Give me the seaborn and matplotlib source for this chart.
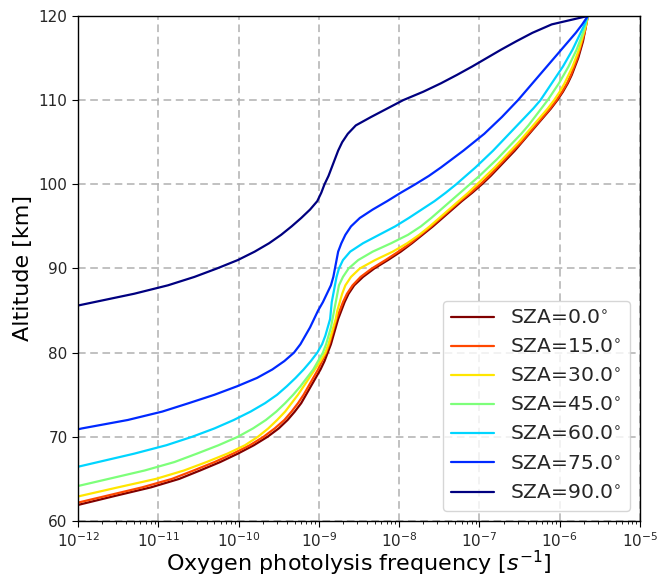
import numpy as np
import pandas as pd
import matplotlib
matplotlib.use("Agg")
import matplotlib.pyplot as plt
import seaborn as sns

nan = np.nan
altitude = list(range(60, 121))  # km, 1 km steps

sza_labels = ["SZA=0.0$^{\\circ}$", "SZA=15.0$^{\\circ}$", "SZA=30.0$^{\\circ}$",
              "SZA=45.0$^{\\circ}$", "SZA=60.0$^{\\circ}$", "SZA=75.0$^{\\circ}$",
              "SZA=90.0$^{\\circ}$"]

# log10 of the photolysis frequency [s^-1], one value per altitude (60..120 km)
logj_sza0 = [-12.75, -12.37, -11.96, -11.53, -11.09, -10.74, -10.48, -10.23, -10.01, -9.81,
             -9.64, -9.50, -9.39, -9.30, -9.22, -9.16, -9.10, -9.04, -8.98, -8.93,
             -8.89, -8.85, -8.82, -8.79, -8.76, -8.72, -8.68, -8.63, -8.56, -8.45,
             -8.31, -8.14, -7.98, -7.84, -7.71, -7.58, -7.46, -7.34, -7.22, -7.09,
             -6.97, -6.86, -6.76, -6.66, -6.56, -6.47, -6.38, -6.29, -6.20, -6.11,
             -6.03, -5.96, -5.90, -5.85, -5.81, -5.77, -5.74, -5.71, -5.69, -5.67, -5.65]
logj_sza15 = [-12.88, -12.50, -12.08, -11.64, -11.20, -10.83, -10.56, -10.30, -10.07, -9.86,
              -9.69, -9.55, -9.43, -9.34, -9.26, -9.19, -9.13, -9.07, -9.01, -8.96,
              -8.91, -8.87, -8.84, -8.81, -8.78, -8.74, -8.70, -8.65, -8.58, -8.48,
              -8.34, -8.17, -8.01, -7.86, -7.73, -7.60, -7.48, -7.36, -7.24, -7.11,
              -6.99, -6.88, -6.78, -6.68, -6.58, -6.48, -6.39, -6.30, -6.21, -6.12,
              -6.04, -5.97, -5.91, -5.86, -5.82, -5.78, -5.75, -5.72, -5.69, -5.67, -5.65]
logj_sza30 = [-13.30, -12.85, -12.42, -11.96, -11.50, -11.03, -10.68, -10.40, -10.14, -9.92,
              -9.76, -9.63, -9.52, -9.42, -9.34, -9.26, -9.19, -9.12, -9.05, -8.98,
              -8.92, -8.88, -8.85, -8.82, -8.79, -8.77, -8.74, -8.71, -8.67, -8.60,
              -8.49, -8.30, -8.08, -7.90, -7.75, -7.62, -7.50, -7.38, -7.26, -7.14,
              -7.03, -6.92, -6.81, -6.71, -6.61, -6.51, -6.42, -6.33, -6.24, -6.15,
              -6.07, -6.00, -5.94, -5.89, -5.84, -5.80, -5.76, -5.73, -5.70, -5.67, -5.65]
logj_sza45 = [-13.90, -13.45, -13.00, -12.53, -12.07, -11.62, -11.17, -10.80, -10.52, -10.25,
              -10.01, -9.82, -9.66, -9.53, -9.42, -9.32, -9.23, -9.15, -9.07, -9.01,
              -8.95, -8.91, -8.88, -8.85, -8.83, -8.81, -8.79, -8.77, -8.75, -8.70,
              -8.63, -8.51, -8.33, -8.10, -7.89, -7.73, -7.60, -7.48, -7.36, -7.24,
              -7.12, -7.00, -6.89, -6.78, -6.68, -6.58, -6.48, -6.39, -6.31, -6.23,
              -6.15, -6.08, -6.01, -5.95, -5.89, -5.84, -5.79, -5.75, -5.71, -5.68, -5.65]
logj_sza60 = [nan, nan, -14.00, -13.55, -13.10, -12.65, -12.20, -11.75, -11.30, -10.90,
              -10.58, -10.30, -10.06, -9.85, -9.67, -9.52, -9.40, -9.29, -9.19, -9.10,
              -9.02, -8.96, -8.92, -8.89, -8.86, -8.85, -8.84, -8.82, -8.80, -8.78,
              -8.75, -8.70, -8.61, -8.45, -8.25, -8.05, -7.88, -7.72, -7.56, -7.42,
              -7.29, -7.17, -7.05, -6.94, -6.83, -6.73, -6.63, -6.53, -6.43, -6.33,
              -6.24, -6.17, -6.10, -6.03, -5.96, -5.90, -5.84, -5.79, -5.74, -5.69, -5.65]
logj_sza75 = [nan, nan, nan, nan, nan, nan, nan, nan, -13.30, -12.85,
              -12.42, -11.95, -11.38, -10.95, -10.62, -10.30, -10.02, -9.77, -9.58, -9.43,
              -9.31, -9.23, -9.17, -9.11, -9.06, -9.01, -8.95, -8.90, -8.85, -8.82,
              -8.80, -8.78, -8.76, -8.72, -8.67, -8.60, -8.49, -8.33, -8.15, -7.98,
              -7.80, -7.63, -7.48, -7.34, -7.20, -7.07, -6.94, -6.83, -6.72, -6.62,
              -6.52, -6.43, -6.34, -6.25, -6.16, -6.07, -5.98, -5.89, -5.80, -5.72, -5.65]
logj_sza90 = [nan, nan, nan, nan, nan, nan, nan, nan, nan, nan,
              nan, nan, nan, nan, nan, nan, nan, nan, nan, nan,
              nan, nan, nan, nan, -12.80, -12.30, -11.80, -11.30, -10.88, -10.55,
              -10.27, -10.01, -9.80, -9.62, -9.47, -9.34, -9.22, -9.11, -9.02, -8.97,
              -8.93, -8.88, -8.84, -8.80, -8.76, -8.71, -8.64, -8.54, -8.35, -8.15,
              -7.95, -7.70, -7.48, -7.28, -7.09, -6.91, -6.73, -6.54, -6.34, -6.10, -5.65]

series = [logj_sza0, logj_sza15, logj_sza30, logj_sza45, logj_sza60, logj_sza75, logj_sza90]

sns.set_style("ticks")
plt.rcParams['font.family'] = ['DejaVu Sans']

fig = plt.figure(figsize=(6.59, 5.79), dpi=100)
ax = fig.add_axes([0.1184, 0.1002, 0.8528, 0.8722])

colors = plt.cm.jet(np.linspace(1, 0, len(series)))
for lab, vals, col in zip(sza_labels, series, colors):
    df = pd.DataFrame({"alt": altitude, "J": 10.0 ** np.array(vals, dtype=float)}).dropna()
    sns.lineplot(data=df, x="J", y="alt", sort=False, estimator=None, color=col,
                 linewidth=1.6, label=lab, ax=ax)

ax.set_xscale("log")
ax.set_xlim(1e-12, 1e-5)
ax.set_ylim(60, 120)
ax.set_yticks([60, 70, 80, 90, 100, 110, 120])
ax.grid(True, which="major", linestyle=(0, (5, 3)), color="#b0b0b0", linewidth=1.1)
ax.tick_params(axis="both", which="major", labelsize=11, direction="out", length=4,
               color="black")
ax.tick_params(axis="x", which="minor", length=2, color="black")
for sp in ax.spines.values():
    sp.set_color("black")
    sp.set_linewidth(1.0)
ax.set_xlabel("Oxygen photolysis frequency [$s^{-1}$]", fontsize=16, color="black",
              labelpad=-1)
ax.set_ylabel("Altitude [km]", fontsize=16, color="black")
ax.legend(loc="lower right", fontsize=14.6, frameon=True, framealpha=0.8,
          borderaxespad=0.5, handlelength=2.1)

fig.savefig("out.png", dpi=100)
